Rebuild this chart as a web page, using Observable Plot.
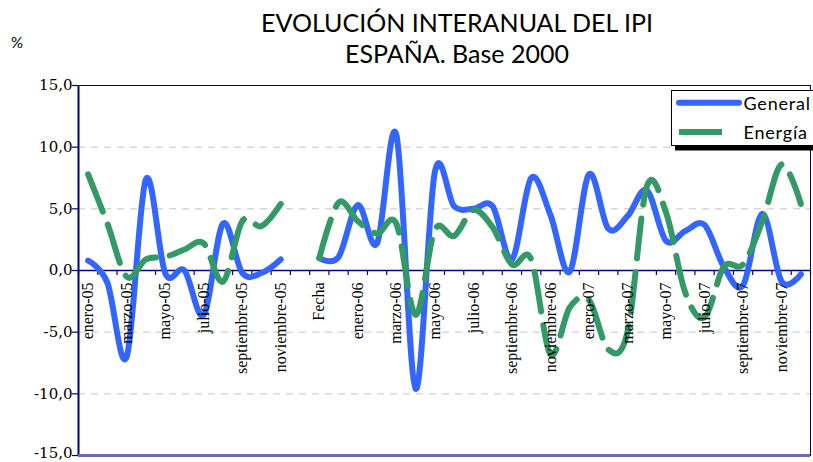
<!DOCTYPE html>
<html>
<head>
<meta charset="utf-8">
<script src="https://cdn.jsdelivr.net/npm/d3@7"></script>
<script src="https://cdn.jsdelivr.net/npm/@observablehq/plot@0.6"></script>
<style>
  html, body { margin: 0; padding: 0; background: #fff; }
  #wrap { position: relative; width: 813px; height: 462px; overflow: hidden; }
  #wrap > svg { position: absolute; left: 0; top: 0; }
  #overlay { pointer-events: none; }
</style>
</head>
<body>
<div id="wrap"></div>
<script>
// ---- data ----
const months = [
  "enero-05","febrero-05","marzo-05","abril-05","mayo-05","junio-05",
  "julio-05","agosto-05","septiembre-05","octubre-05","noviembre-05","diciembre-05",
  "Fecha","",
  "enero-06","febrero-06","marzo-06","abril-06","mayo-06","junio-06",
  "julio-06","agosto-06","septiembre-06","octubre-06","noviembre-06","diciembre-06",
  "enero-07","febrero-07","marzo-07","abril-07","mayo-07","junio-07",
  "julio-07","agosto-07","septiembre-07","octubre-07","noviembre-07","diciembre-07"
];
const general = [
  0.8, -1.0, -7.0, 7.4, -0.2, 0.0, -3.6, 3.8, -0.2, -0.2, 0.9, null,
  1.0, 1.1,
  5.3, 2.2, 11.0, -9.6, 8.0, 5.2, 5.0, 5.2, 0.9, 7.5, 4.5, -0.1,
  7.8, 3.4, 4.4, 6.5, 2.4, 3.2, 3.7, 0.3, -1.2, 4.6, -0.9, -0.3
];
const energia = [
  7.8, 3.8, -0.5, 0.9, 1.1, 1.7, 2.2, -0.9, 4.0, 3.6, 5.4, null,
  1.0, 5.5,
  4.0, 3.0, 3.8, -3.6, 3.3, 2.8, 4.9, 3.5, 0.5, 0.9, -6.8, -3.0,
  -2.4, -6.4, -5.0, 6.8, 4.7, -1.8, -3.8, 0.3, 0.5, 4.0, 8.6, 5.4
];
const yTicks = [15, 10, 5, 0, -5, -10, -15];
const gridValues = [10, 5, -5, -10];
const seriesNames = ["General", "Energía"];
const titleLines = ["EVOLUCIÓN INTERANUAL DEL IPI", "ESPAÑA. Base 2000"];
const unitLabel = "%";

// ---- derived tables ----
const idx = months.map((_, i) => i);
const rowsGeneral = idx.map(i => ({i, v: general[i]}));
const rowsEnergia = idx.map(i => ({i, v: energia[i]}));
const labelIdx = idx.filter(i => i % 2 === 0);
const bounds = d3.range(months.length + 1).map(k => k - 0.5);
const xMin = -0.5, xMax = months.length - 0.5;
const yMin = d3.min(yTicks), yMax = d3.max(yTicks);
const fmt = d => d.toFixed(1).replace(".", ",");

const NAVY = "#000080";
const BLUE = "#3366ff";
const GREEN = "#339966";

const yLabelStyle = {
  frameAnchor: "left", text: fmt, textAnchor: "end", dx: -6,
  fontFamily: "DejaVu Serif", fontSize: 15, fill: "#000", style: "letter-spacing:1px"
};

const chart = Plot.plot({
  width: 813,
  height: 462,
  marginLeft: 78,
  marginRight: 3,
  marginTop: 85,
  marginBottom: 7,
  x: {type: "linear", domain: [xMin, xMax], axis: null},
  y: {domain: [yMin, yMax], axis: null},
  style: {background: "white", overflow: "visible"},
  marks: [
    Plot.ruleY(gridValues, {stroke: "#c4c4c4", strokeWidth: 1, strokeDasharray: "7,6"}),
    Plot.frame({stroke: NAVY, strokeWidth: 1}),
    Plot.ruleX([xMin], {stroke: NAVY, strokeWidth: 2}),
    Plot.ruleY([yMin], {stroke: "#6a6ab4", strokeWidth: 3}),
    // y ticks
    Plot.ruleY(yTicks, {x1: xMin, x2: xMin - 0.31, stroke: NAVY, strokeWidth: 1.2}),
    Plot.text(yTicks.filter(d => d !== yMin), {y: d => d, ...yLabelStyle}),
    Plot.text(yTicks.filter(d => d === yMin), {y: d => d, ...yLabelStyle, dy: -2}),
    // zero axis + ticks
    Plot.ruleY([0], {stroke: NAVY, strokeWidth: 1.5}),
    Plot.ruleX(bounds, {y1: 0, y2: -0.4, stroke: NAVY, strokeWidth: 1.2}),
    // series
    Plot.line(rowsGeneral, {x: "i", y: "v", stroke: BLUE, strokeWidth: 6, curve: "cardinal", strokeLinecap: "round"}),
    Plot.line(rowsEnergia, {x: "i", y: "v", stroke: GREEN, strokeWidth: 6, curve: "cardinal", strokeDasharray: "40,14"}),
    // category labels
    Plot.text(labelIdx, {
      x: d => d, y: 0, text: d => months[d], rotate: -90, textAnchor: "end", dy: 12,
      fontFamily: "Liberation Serif", fontSize: 16, fill: "#000"
    })
  ]
});

const wrap = document.getElementById("wrap");
wrap.appendChild(chart);

// ---- overlay: title, unit, legend ----
const ov = d3.select(wrap).append("svg")
  .attr("id", "overlay")
  .attr("width", 813).attr("height", 462);

ov.selectAll("text.title").data(titleLines).join("text")
  .attr("class", "title")
  .attr("x", 457)
  .attr("y", (d, k) => k === 0 ? 31.7 : 63.3)
  .attr("text-anchor", "middle")
  .attr("font-family", "Lato")
  .attr("font-size", 25)
  .attr("fill", "#000")
  .text(d => d);

ov.append("text").attr("x", 11).attr("y", 48)
  .attr("font-family", "Lato").attr("font-size", 15).attr("fill", "#000")
  .text(unitLabel);

// legend
const lg = ov.append("g");
lg.append("rect").attr("x", 675).attr("y", 145.5).attr("width", 140).attr("height", 5).attr("fill", "#000");
lg.append("rect").attr("x", 671.5).attr("y", 90.5).attr("width", 150).attr("height", 55)
  .attr("fill", "#fff").attr("stroke", "#000").attr("stroke-width", 1);
lg.append("line").attr("x1", 679).attr("x2", 739).attr("y1", 102.7).attr("y2", 102.7)
  .attr("stroke", BLUE).attr("stroke-width", 6).attr("stroke-linecap", "round");
lg.append("line").attr("x1", 679).attr("x2", 722).attr("y1", 132).attr("y2", 132)
  .attr("stroke", GREEN).attr("stroke-width", 6);
lg.selectAll("text.lg").data(seriesNames).join("text")
  .attr("class", "lg")
  .attr("x", 743.5)
  .attr("y", (d, k) => k === 0 ? 109.5 : 139)
  .attr("font-family", "Lato").attr("font-size", 18)
  .attr("letter-spacing", "0.8px")
  .attr("fill", "#000")
  .text(d => d);
</script>
</body>
</html>
